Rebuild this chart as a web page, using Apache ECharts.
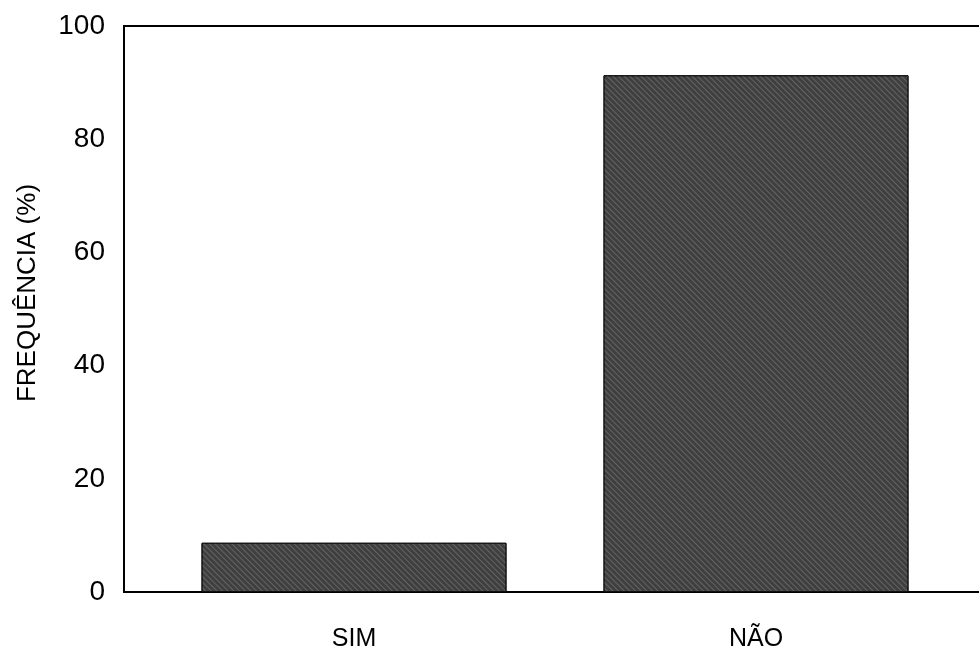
<!DOCTYPE html>
<html>
<head>
<meta charset="utf-8">
<script src="https://cdn.jsdelivr.net/npm/echarts@6/dist/echarts.min.js"></script>
<style>
  html, body { margin: 0; padding: 0; background: #fff; }
  #chart { width: 979px; height: 654px; }
</style>
</head>
<body>
<div id="chart"></div>
<script>
// Survey answers and their share (%)
const categories = ['SIM', 'NÃO'];
const frequency = [8.7, 91.3];
const yTicks = { min: 0, max: 100, step: 20 };
const yTitle = 'FREQUÊNCIA (%)';

const font = 'Arial, "Liberation Sans", sans-serif';
const chart = echarts.init(document.getElementById('chart'));

chart.setOption({
  backgroundColor: '#ffffff',
  animation: false,
  grid: [
    // frame and value scale (right side runs past the page edge)
    { left: 124, width: 880, top: 26, bottom: 62, show: true, outerBoundsMode: 'none',
      borderColor: '#000', borderWidth: 2, backgroundColor: 'transparent' },
    // bars
    { left: 153, right: 22, top: 26, bottom: 62, outerBoundsMode: 'none' }
  ],
  graphic: [{
    type: 'text',
    x: 28, y: 293,
    rotation: Math.PI / 2,
    style: {
      text: yTitle,
      fill: '#000',
      font: '26px ' + font,
      align: 'center',
      verticalAlign: 'middle'
    }
  }],
  xAxis: [
    { gridIndex: 0, type: 'value', show: false, min: 0, max: 1 },
    { gridIndex: 1, type: 'category', data: categories,
      axisLine: { show: false }, axisTick: { show: false },
      axisLabel: { color: '#000', fontFamily: font, fontSize: 25, margin: 35 } }
  ],
  yAxis: [
    { gridIndex: 0, type: 'value', min: yTicks.min, max: yTicks.max, interval: yTicks.step,
      axisLine: { show: false }, axisTick: { show: false }, splitLine: { show: false },
      axisLabel: { color: '#000', fontFamily: font, fontSize: 28, margin: 19 } },
    { gridIndex: 1, type: 'value', min: yTicks.min, max: yTicks.max, show: false }
  ],
  series: [{
    type: 'bar',
    xAxisIndex: 1,
    yAxisIndex: 1,
    data: frequency,
    barWidth: 305,
    itemStyle: {
      color: '#3f3f3f',
      borderColor: '#111',
      borderWidth: 1,
      decal: {
        symbol: 'rect',
        color: 'rgba(170,170,170,0.35)',
        dashArrayX: [1, 0],
        dashArrayY: [1, 3],
        rotation: Math.PI / 4
      }
    }
  }]
});
</script>
</body>
</html>
